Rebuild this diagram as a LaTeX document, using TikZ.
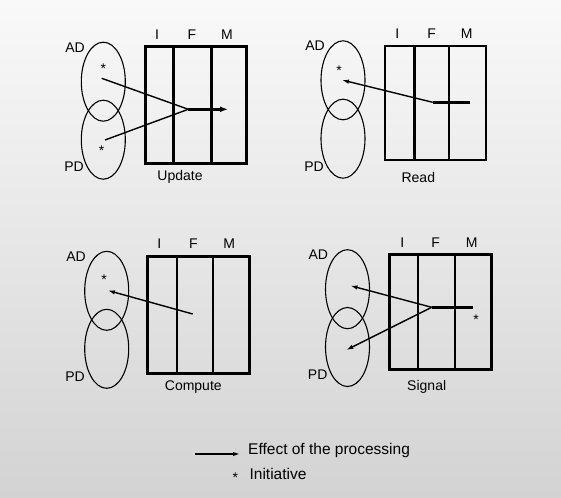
\documentclass[tikz,border=0pt]{standalone}
\usepackage{fontspec}
\setmainfont{Liberation Sans}
\usetikzlibrary{shapes.geometric, arrows.meta, positioning}
\definecolor{bgtop}{RGB}{249,249,249}
\definecolor{bgbottom}{RGB}{211,211,211}
\tikzset{
    lobe/.style = {draw, ellipse, line width=1.1pt, minimum width=44pt, minimum height=79pt, inner sep=0pt},
    frame/.style = {draw, line width=3pt},
    divider/.style = {line width=2pt},
    letter/.style = {inner sep=0pt, font=\fontsize{14}{16}\selectfont},
    legendtext/.style = {inner sep=0pt, anchor=west, font=\fontsize{15.5}{18}\selectfont},
    initiative/.style = {inner sep=0pt, yshift=-3pt, font=\fontsize{14}{16}\selectfont},
    effect/.style = {line width=1.4pt, -{Latex[length=7pt,width=4.5pt]}},
    feed/.style = {line width=1.4pt},
    bar/.style = {line width=3pt}
}

\begin{document}
\begin{tikzpicture}[x=1pt, y=-1pt]
    % background
    \shade[top color=bgtop, bottom color=bgbottom] (0,0) rectangle (561,497);
    \useasboundingbox (0,0) rectangle (561,497);

    % Update
    \node[lobe] (uad) at (103.3,81.7) {};
    \node[lobe] (upd) at (103.3,139.7) {};
    \node[letter] (uadl) at (75,48) {AD};
    \node[letter] (updl) at (74,167) {PD};
    \node[initiative] (ustara) at (103.3,65.5) {*};
    \node[initiative] (ustarp) at (101.7,147.5) {*};
    \draw[frame] (145,47) rectangle (246,163);
    \draw[divider, line width=3pt] (173,47) -- (173,163);
    \draw[divider, line width=3pt] (211,47) -- (211,163);
    \node[letter] (ui) at (157,35) {I};
    \node[letter] (uf) at (192,35) {F};
    \node[letter] (um) at (227,35) {M};
    \node[letter] (ulabel) at (180,177.3) {Update};
    \coordinate (ufrom) at (101.7,78.3);
    \coordinate (ufromp) at (105,140);
    \coordinate (ufork) at (188.3,109.3);
    \coordinate (uto) at (228,109.3);
    \draw[feed] (ufrom) -- (ufork);
    \draw[feed] (ufromp) -- (ufork);
    \draw[bar, -{Latex[length=8pt,width=6pt]}] (ufork) -- (uto);

    % Read
    \node[lobe] (rad) at (343,80.3) {};
    \node[lobe] (rpd) at (343,138.7) {};
    \node[letter] (radl) at (315,46) {AD};
    \node[letter] (rpdl) at (314,167) {PD};
    \node[initiative] (rstar) at (339,68) {*};
    \draw[frame, line width=2.3pt] (385,46) rectangle (486,160);
    \draw[divider, line width=3pt] (414,46) -- (414,160);
    \draw[divider] (449,46) -- (449,160);
    \node[letter] (ri) at (397.3,34) {I};
    \node[letter] (rf) at (431.7,34) {F};
    \node[letter] (rm) at (466.7,34) {M};
    \node[letter] (rlabel) at (418.3,177.3) {Read};
    \coordinate (rfork) at (432.7,102.3);
    \coordinate (rend) at (470,102.3);
    \coordinate (rto) at (342,80);
    \draw[bar] (rfork) -- (rend);
    \draw[effect] (rfork) -- (rto);

    % Compute
    \node[lobe] (cad) at (106.7,290.8) {};
    \node[lobe] (cpd) at (106.7,348.8) {};
    \node[letter] (cadl) at (76,257) {AD};
    \node[letter] (cpdl) at (75,377) {PD};
    \node[initiative] (cstar) at (104,277) {*};
    \draw[frame] (147.7,256) rectangle (249,373.3);
    \draw[divider] (177,256) -- (177,373.3);
    \draw[divider] (213.3,256) -- (213.3,373.3);
    \node[letter] (ci) at (159.3,244) {I};
    \node[letter] (cf) at (193.3,244) {F};
    \node[letter] (cm) at (229.3,244) {M};
    \node[letter] (clabel) at (193.3,387.3) {Compute};
    \coordinate (cfrom) at (192.7,314);
    \coordinate (cto) at (108,290.5);
    \draw[effect] (cfrom) -- (cto);

    % Signal
    \node[lobe] (sad) at (347.5,289.2) {};
    \node[lobe] (spd) at (347.5,347) {};
    \node[letter] (sadl) at (318.3,255) {AD};
    \node[letter] (spdl) at (317.7,375) {PD};
    \node[initiative] (sstar) at (476,317) {*};
    \draw[frame] (389,254) rectangle (491,369.3);
    \draw[divider] (418,254) -- (418,369.3);
    \draw[divider] (455.3,254) -- (455.3,369.3);
    \node[letter] (si) at (402.3,242.3) {I};
    \node[letter] (sf) at (435.7,242.3) {F};
    \node[letter] (sm) at (471.7,242.3) {M};
    \node[letter] (slabel) at (426.7,386.7) {Signal};
    \coordinate (sfork) at (431.7,307.3);
    \coordinate (send) at (472.7,307.3);
    \coordinate (stoa) at (350.5,285.7);
    \coordinate (stop) at (346.3,350);
    \draw[bar] (sfork) -- (send);
    \draw[effect] (sfork) -- (stoa);
    \draw[effect] (sfork) -- (stop);

    % legend
    \coordinate (lfrom) at (195,454);
    \coordinate (lto) at (240,454);
    \draw[effect, line width=2pt] (lfrom) -- (lto);
    \node[legendtext] (leffect) at (248,450.5) {Effect of the processing};
    \node[initiative] (lstar) at (235.4,474.5) {*};
    \node[legendtext] (linit) at (249.4,473.7) {Initiative};
\end{tikzpicture}
\end{document}
